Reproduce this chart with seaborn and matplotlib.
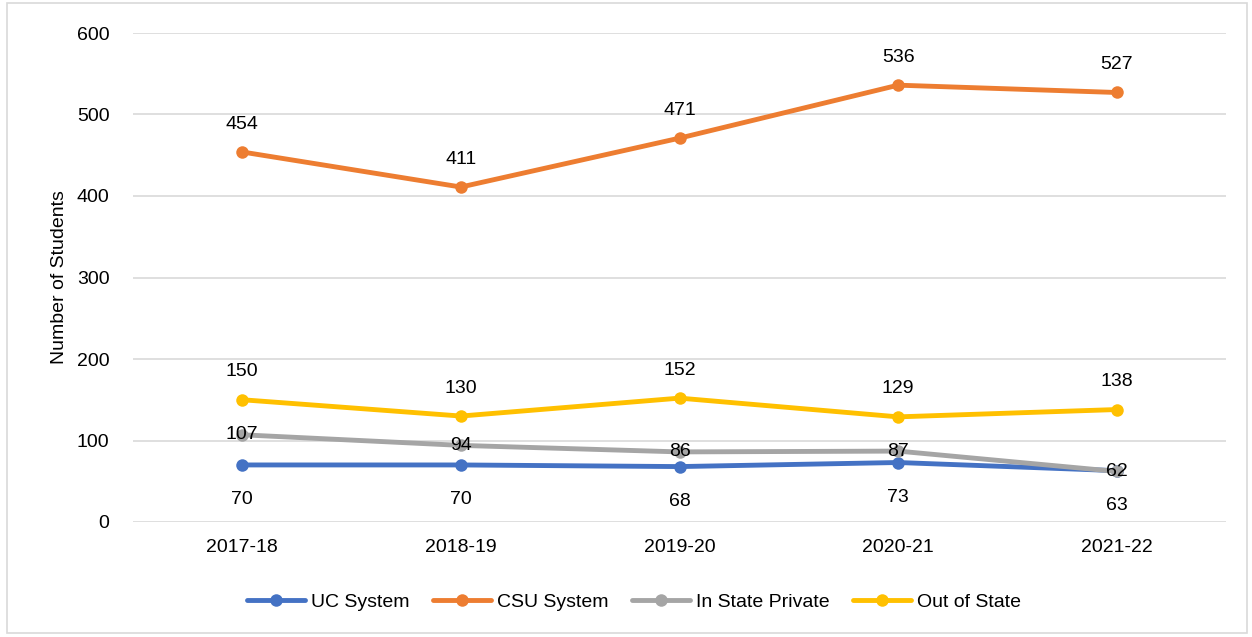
import matplotlib
matplotlib.use("Agg")
import matplotlib.pyplot as plt
import seaborn as sns
import pandas as pd
from matplotlib.patches import Rectangle

years = ["2017-18", "2018-19", "2019-20", "2020-21", "2021-22"]
uc_system = [70, 70, 68, 73, 63]
csu_system = [454, 411, 471, 536, 527]
in_state_private = [107, 94, 86, 87, 62]
out_of_state = [150, 130, 152, 129, 138]

series_names = ["UC System", "CSU System", "In State Private", "Out of State"]
series_vals = [uc_system, csu_system, in_state_private, out_of_state]
colors = ["#4472C4", "#ED7D31", "#A5A5A5", "#FFC000"]
label_pos = ["below", "above", "center", "above"]

sns.set_theme(style="white")
plt.rcParams['font.family'] = ['Liberation Sans', 'DejaVu Sans']
plt.rcParams['text.color'] = 'black'

rows = []
for name, vals in zip(series_names, series_vals):
    for i, v in enumerate(vals):
        rows.append({"x": i, "Year": years[i], "Series": name, "Value": v})
df = pd.DataFrame(rows)

fig = plt.figure(figsize=(12.52, 6.37), dpi=100)
ax = fig.add_axes([133/1252, 1-522/637, (1226-133)/1252, (522-33)/637])

sns.lineplot(data=df, x="x", y="Value", hue="Series", hue_order=series_names,
             palette=colors, marker="o", markersize=9, markeredgewidth=0,
             linewidth=3.5, ax=ax, legend=True)

fs = 14
for name, vals, pos in zip(series_names, series_vals, label_pos):
    for i, v in enumerate(vals):
        if pos == "above":
            ax.annotate(str(v), (i, v), xytext=(0, 14), textcoords="offset points",
                        ha="center", va="bottom", fontsize=fs, color="black", zorder=5)
        elif pos == "below":
            ax.annotate(str(v), (i, v), xytext=(0, -19), textcoords="offset points",
                        ha="center", va="top", fontsize=fs, color="black", zorder=5)
        else:
            ax.annotate(str(v), (i, v), xytext=(0, 0), textcoords="offset points",
                        ha="center", va="center", fontsize=fs, color="black", zorder=5)

ax.set_xlim(-0.5, 4.5)
ax.set_ylim(0, 600)
ax.set_yticks([0, 100, 200, 300, 400, 500, 600])
ax.set_xticks(range(len(years)))
ax.set_xticklabels(years)
ax.tick_params(axis="both", labelsize=fs, colors="black", length=0)
ax.tick_params(axis="y", pad=17)
ax.tick_params(axis="x", pad=12)
ax.yaxis.grid(True, color="#D9D9D9", linewidth=1.2)
ax.set_axisbelow(True)
for s in ax.spines.values():
    s.set_visible(False)
ax.set_xlabel("")
ax.set_ylabel("Number of Students", fontsize=fs, color="black", labelpad=6)

handles, labels = ax.get_legend_handles_labels()
ax.legend(handles, labels, loc="center", bbox_to_anchor=(634/1252, 1-602/637),
          bbox_transform=fig.transFigure, ncol=4, frameon=False, fontsize=fs,
          handlelength=3.0, columnspacing=1.2, handletextpad=0.3, labelcolor="black")

fig.patches.append(Rectangle((7/1252, 4/637), 1240/1252, 630/637, transform=fig.transFigure,
                             fill=False, edgecolor="#D9D9D9", linewidth=1.2))

fig.savefig("out.png", dpi=100, facecolor="white")
